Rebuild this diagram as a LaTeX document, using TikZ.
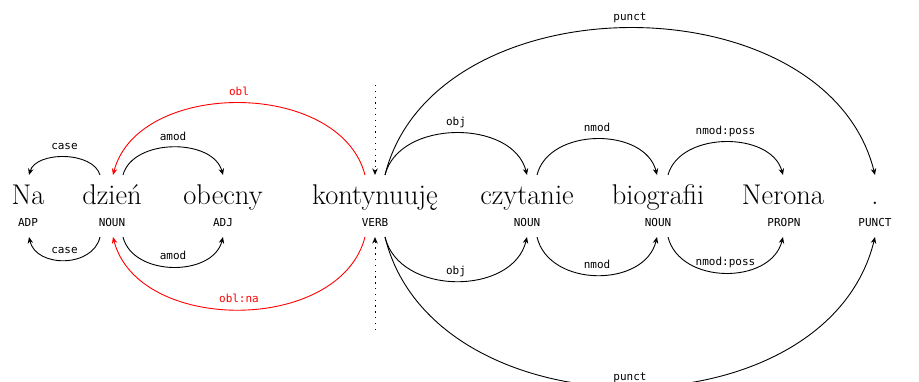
\documentclass[tikz,border=0pt]{standalone}
\usepackage{fontspec}
\newfontfamily\tagfont{DejaVu Sans Mono}
\usetikzlibrary{arrows.meta}
\begin{document}
\begin{tikzpicture}[x=1pt,y=-1pt,
  word/.style={anchor=base, inner sep=0pt, font=\fontsize{28.5}{32}\selectfont},
  tag/.style={anchor=base, inner sep=0pt, font=\tagfont\fontsize{11}{13}\selectfont},
  lbl/.style={pos=0.5, anchor=base, yshift=7pt, inner sep=0pt, font=\tagfont\fontsize{11}{13}\selectfont},
  arc/.style={line width=0.9pt, -{Stealth[length=6.5pt,width=5.5pt]}},
  hl/.style={red},
  rootline/.style={line width=1pt, dash pattern=on 1.3pt off 4.5pt, -{Stealth[length=6.5pt,width=5.5pt]}}]
\useasboundingbox (0,0) rectangle (919,382);

% words
\node[word] (w1) at (28,205) {Na};
\node[word] (w2) at (112,205) {dzień};
\node[word] (w3) at (223,205) {obecny};
\node[word] (w4) at (375,205) {kontynuuję};
\node[word] (w5) at (527,205) {czytanie};
\node[word] (w6) at (658,205) {biografii};
\node[word] (w7) at (783,205) {Nerona};
\node[word] (w8) at (875,205) {.};

% tags
\node[tag] (t1) at (28,227) {ADP};
\node[tag] (t2) at (112,227) {NOUN};
\node[tag] (t3) at (223,227) {ADJ};
\node[tag] (t4) at (375,227) {VERB};
\node[tag] (t5) at (527,227) {NOUN};
\node[tag] (t6) at (658,227) {NOUN};
\node[tag] (t7) at (784,227) {PROPN};
\node[tag] (t8) at (875,227) {PUNCT};

% arc anchors
\coordinate (w1u) at (29,175);  \coordinate (w1d) at (29,237);
\coordinate (w2u) at (112,175); \coordinate (w2d) at (112,237);
\coordinate (w3u) at (223,175); \coordinate (w3d) at (223,237);
\coordinate (w4u) at (375,175); \coordinate (w4d) at (375,237);
\coordinate (w5u) at (527,175); \coordinate (w5d) at (527,237);
\coordinate (w6u) at (657,175); \coordinate (w6d) at (657,237);
\coordinate (w7u) at (783,175); \coordinate (w7d) at (783,237);
\coordinate (w8u) at (875,175); \coordinate (w8d) at (875,237);
\coordinate (roottop) at (375,85);
\coordinate (rootbot) at (375,330);

% root markers
\draw[rootline] (roottop) -- (w4u);
\draw[rootline] (rootbot) -- (w4d);

% top arcs
\draw[arc] ([xshift=-12pt]w2u) .. controls +(-7,-24) and +(7,-24) .. (w1u) node[lbl]{case};
\draw[arc] ([xshift=11pt]w2u) .. controls +(10,-37) and +(-10,-37) .. (w3u) node[lbl]{amod};
\draw[arc,hl] ([xshift=-10pt]w4u) .. controls +(-25,-96) and +(25,-96) .. ([xshift=1pt]w2u) node[lbl,text=red]{obl};
\draw[arc] ([xshift=10pt]w4u) .. controls +(14,-56) and +(-14,-56) .. (w5u) node[lbl]{obj};
\draw[arc] ([xshift=10pt]w5u) .. controls +(12,-48) and +(-12,-48) .. (w6u) node[lbl]{nmod};
\draw[arc] ([xshift=11pt]w6u) .. controls +(12,-44) and +(-12,-44) .. (w7u) node[lbl]{nmod:poss};
\draw[arc] ([xshift=10pt]w4u) .. controls +(49,-196) and +(-49,-196) .. (w8u) node[lbl]{punct};

% bottom arcs
\draw[arc] ([xshift=-12pt]w2d) .. controls +(-7,31) and +(7,31) .. (w1d) node[lbl]{case};
\draw[arc] ([xshift=11pt]w2d) .. controls +(10,40) and +(-10,40) .. (w3d) node[lbl]{amod};
\draw[arc,hl] ([xshift=-10pt]w4d) .. controls +(-25,97) and +(25,97) .. ([xshift=1pt]w2d) node[lbl,text=red]{obl:na};
\draw[arc] ([xshift=10pt]w4d) .. controls +(14,59) and +(-14,59) .. (w5d) node[lbl]{obj};
\draw[arc] ([xshift=10pt]w5d) .. controls +(12,51) and +(-12,51) .. (w6d) node[lbl]{nmod};
\draw[arc] ([xshift=11pt]w6d) .. controls +(12,48) and +(-12,48) .. (w7d) node[lbl]{nmod:poss};
\draw[arc] ([xshift=10pt]w4d) .. controls +(49,200) and +(-49,200) .. (w8d) node[lbl]{punct};
\end{tikzpicture}
\end{document}
